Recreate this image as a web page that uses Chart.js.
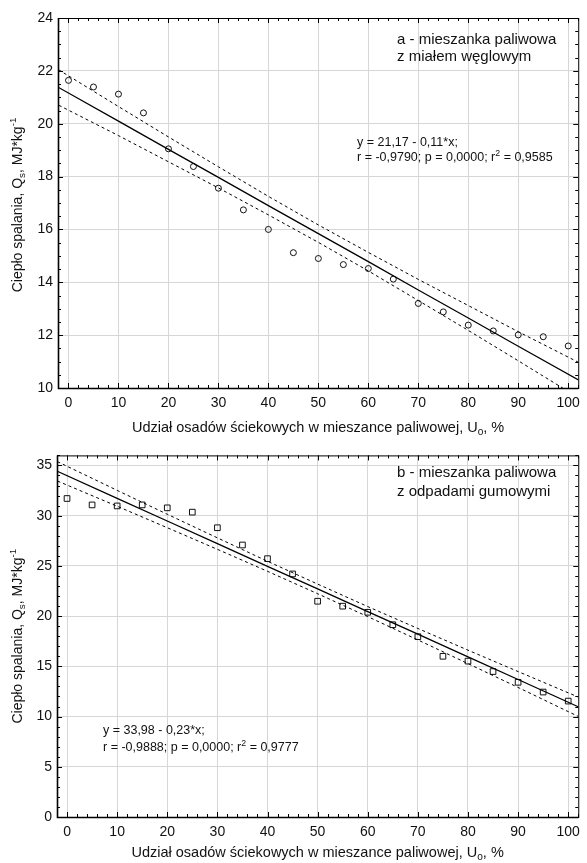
<!DOCTYPE html>
<html>
<head>
    <title>Ciepło spalania</title>
    <script src="https://cdn.jsdelivr.net/npm/chart.js"></script>
    <style>
        body { margin: 0; background: #fff; }
        canvas { display: block; }
    </style>
</head>
<body>
    <canvas id="chartA" width="587" height="442"></canvas>
    <canvas id="chartB" width="587" height="421"></canvas>
    <script>
        // udział osadów, %
        const xValues = [0, 5, 10, 15, 20, 25, 30, 35, 40, 45, 50, 55, 60, 65, 70, 75, 80, 85, 90, 95, 100];
        // a - z miałem węglowym
        const heatA = [21.64, 21.39, 21.12, 20.41, 19.05, 18.38, 17.56, 16.74, 16.0, 15.12, 14.9, 14.67, 14.52, 14.12, 13.2, 12.88, 12.38, 12.16, 12.01, 11.94, 11.59];
        // b - z odpadami gumowymi
        const heatB = [31.71, 31.07, 30.97, 31.07, 30.78, 30.35, 28.8, 27.08, 25.72, 24.2, 21.48, 20.99, 20.38, 19.14, 17.95, 16.0, 15.52, 14.48, 13.41, 12.44, 11.54];

        // regression line + confidence band
        const fitX = [-3, 10, 20, 30, 40, 50, 60, 70, 80, 90, 103];
        const fitA = [21.48, 20.10, 19.03, 17.97, 16.90, 15.84, 14.78, 13.71, 12.65, 11.58, 10.20];
        const upperA = [22.16, 20.65, 19.50, 18.37, 17.25, 16.17, 15.13, 14.11, 13.12, 12.13, 10.88];
        const lowerA = [20.80, 19.55, 18.56, 17.57, 16.55, 15.51, 14.43, 13.31, 12.18, 11.03, 9.52];
        const fitB = [34.66, 31.73, 29.47, 27.22, 24.96, 22.71, 20.45, 18.20, 15.94, 13.69, 10.75];
        const upperB = [35.64, 32.52, 30.14, 27.79, 25.46, 23.19, 20.95, 18.77, 16.61, 14.48, 11.73];
        const lowerB = [33.68, 30.94, 28.80, 26.65, 24.46, 22.23, 19.95, 17.63, 15.27, 12.90, 9.77];

        const xTicks = [0, 10, 20, 30, 40, 50, 60, 70, 80, 90, 100];
        const yTicksA = [10, 12, 14, 16, 18, 20, 22, 24];
        const yTicksB = [0, 5, 10, 15, 20, 25, 30, 35];

        const FONT = '"Liberation Sans", Arial, sans-serif';

        function pts(xs, ys) {
            return xs.map((x, i) => ({ x: x, y: ys[i] }));
        }

        // text with sub/superscripts
        function drawRich(ctx, parts, x, y, size, align) {
            let w = 0;
            parts.forEach(p => {
                ctx.font = (p[1] ? size * 0.7 : size) + 'px ' + FONT;
                w += ctx.measureText(p[0]).width;
            });
            let cx = align === 'center' ? x - w / 2 : x;
            ctx.textAlign = 'left';
            ctx.textBaseline = 'middle';
            ctx.fillStyle = '#111';
            parts.forEach(p => {
                ctx.font = (p[1] ? size * 0.7 : size) + 'px ' + FONT;
                let dy = 0;
                if (p[1] === 'sub') dy = size * 0.28;
                if (p[1] === 'sup') dy = -size * 0.33;
                ctx.fillText(p[0], cx, y + dy);
                cx += ctx.measureText(p[0]).width;
            });
        }

        const frame = {
            id: 'frame',
            afterDraw(chart, args, opts) {
                const ctx = chart.ctx;
                const a = chart.chartArea;
                const xs = chart.scales.x, ys = chart.scales.y;
                ctx.save();
                ctx.strokeStyle = '#000';
                ctx.lineWidth = 1;
                // minor + major ticks, pointing inwards on all sides
                ctx.beginPath();
                for (let v = opts.xStart; v <= xs.max; v += opts.xMinor) {
                    const px = Math.round(xs.getPixelForValue(v)) + 0.5;
                    const len = xTicks.includes(v) ? 5 : 3;
                    ctx.moveTo(px, a.bottom); ctx.lineTo(px, a.bottom - len);
                    ctx.moveTo(px, a.top); ctx.lineTo(px, a.top + len);
                }
                for (let v = ys.min; v <= ys.max; v += opts.yMinor) {
                    const py = Math.round(ys.getPixelForValue(v)) + 0.5;
                    const len = opts.yTicks.includes(v) ? 5 : 3;
                    ctx.moveTo(a.left, py); ctx.lineTo(a.left + len, py);
                    ctx.moveTo(a.right, py); ctx.lineTo(a.right - len, py);
                }
                ctx.stroke();
                ctx.lineWidth = 1;
                ctx.strokeRect(a.left + 0.5, a.top + 0.5, a.right - a.left, a.bottom - a.top);
                ctx.lineWidth = 1.6;
                ctx.beginPath();
                ctx.moveTo(a.left + 0.5, a.top); ctx.lineTo(a.left + 0.5, a.bottom + 0.5);
                ctx.lineTo(a.right, a.bottom + 0.5);
                ctx.stroke();

                // titles and notes
                drawRich(ctx, [['Udział osadów ściekowych w mieszance paliwowej, U'], ['o', 'sub'], [', %']],
                    (a.left + a.right) / 2, chart.height - opts.xTitleOff, 14.5, 'center');
                ctx.save();
                ctx.translate(18, (a.top + a.bottom) / 2 + opts.yTitleShift);
                ctx.rotate(-Math.PI / 2);
                drawRich(ctx, [['Ciepło spalania, Q'], ['s', 'sub'], [', MJ*kg'], ['-1', 'sup']], 0, 0, 14, 'center');
                ctx.restore();
                opts.notes.forEach(n => drawRich(ctx, n.parts, n.x, n.y, n.size, 'left'));
                ctx.restore();
            }
        };

        function makeChart(id, heat, fit, upper, lower, pointStyle, pointRadius, xMin, yMin, yMax, yTicks, pad, yWidth, xHeight, extra) {
            const lineDs = (data, dash, width) => ({
                type: 'line',
                data: pts(fitX, data),
                borderColor: '#000',
                borderWidth: width,
                borderDash: dash,
                pointRadius: 0,
                fill: false
            });
            return new Chart(document.getElementById(id), {
                type: 'scatter',
                data: {
                    datasets: [
                        lineDs(upper, [3, 3], 1),
                        lineDs(lower, [3, 3], 1),
                        lineDs(fit, [], 1.3),
                        {
                            data: pts(xValues, heat),
                            pointStyle: pointStyle,
                            pointRadius: pointRadius,
                            pointBorderColor: '#111',
                            pointBackgroundColor: 'rgba(255,255,255,0)',
                            pointBorderWidth: 1
                        }
                    ]
                },
                options: {
                    responsive: false,
                    animation: false,
                    layout: { padding: pad },
                    plugins: {
                        legend: { display: false },
                        tooltip: { enabled: false },
                        frame: extra
                    },
                    scales: {
                        x: {
                            type: 'linear',
                            min: xMin,
                            max: 102,
                            afterBuildTicks: s => { s.ticks = xTicks.map(v => ({ value: v })); },
                            afterFit: s => { s.height = xHeight; },
                            grid: { color: '#d6d6d6', drawTicks: false },
                            border: { display: false },
                            ticks: { color: '#111', padding: 7, font: { family: FONT, size: 14 }, maxRotation: 0 }
                        },
                        y: {
                            min: yMin,
                            max: yMax,
                            afterBuildTicks: s => { s.ticks = yTicks.map(v => ({ value: v })); },
                            afterFit: s => { s.width = yWidth; },
                            grid: { color: '#d6d6d6', drawTicks: false },
                            border: { display: false },
                            ticks: { color: '#111', padding: 5, font: { family: FONT, size: 14 } }
                        }
                    }
                },
                plugins: [frame]
            });
        }

        makeChart('chartA', heatA, fitA, upperA, lowerA, 'circle', 3, -2.1, 10, 24, yTicksA,
            { top: 18, right: 4, left: 0, bottom: 0 }, 58, 54, {
                xStart: 0, xMinor: 2, yMinor: 0.5, yTicks: yTicksA, xTitleOff: 14, yTitleShift: 2,
                notes: [
                    { parts: [['a - mieszanka paliwowa']], x: 397, y: 40, size: 15 },
                    { parts: [['z miałem węglowym']], x: 397, y: 57, size: 15 },
                    { parts: [['y = 21,17 - 0,11*x;']], x: 357, y: 143, size: 12.5 },
                    { parts: [['r = -0,9790; p = 0,0000; r'], ['2', 'sup'], [' = 0,9585']], x: 357, y: 158, size: 12.5 }
                ]
            });

        makeChart('chartB', heatB, fitB, upperB, lowerB, 'rect', 4, -2, 0, 36, yTicksB,
            { top: 5, right: 2, left: 0, bottom: 0 }, 57, 46, {
                xStart: 0, xMinor: 2, yMinor: 1, yTicks: yTicksB, xTitleOff: 10, yTitleShift: 0,
                notes: [
                    { parts: [['b - mieszanka paliwowa']], x: 397, y: 31, size: 15 },
                    { parts: [['z odpadami gumowymi']], x: 397, y: 50, size: 15 },
                    { parts: [['y = 33,98 - 0,23*x;']], x: 103, y: 289, size: 12.5 },
                    { parts: [['r = -0,9888; p = 0,0000; r'], ['2', 'sup'], [' = 0,9777']], x: 103, y: 306, size: 12.5 }
                ]
            });
    </script>
</body>
</html>
